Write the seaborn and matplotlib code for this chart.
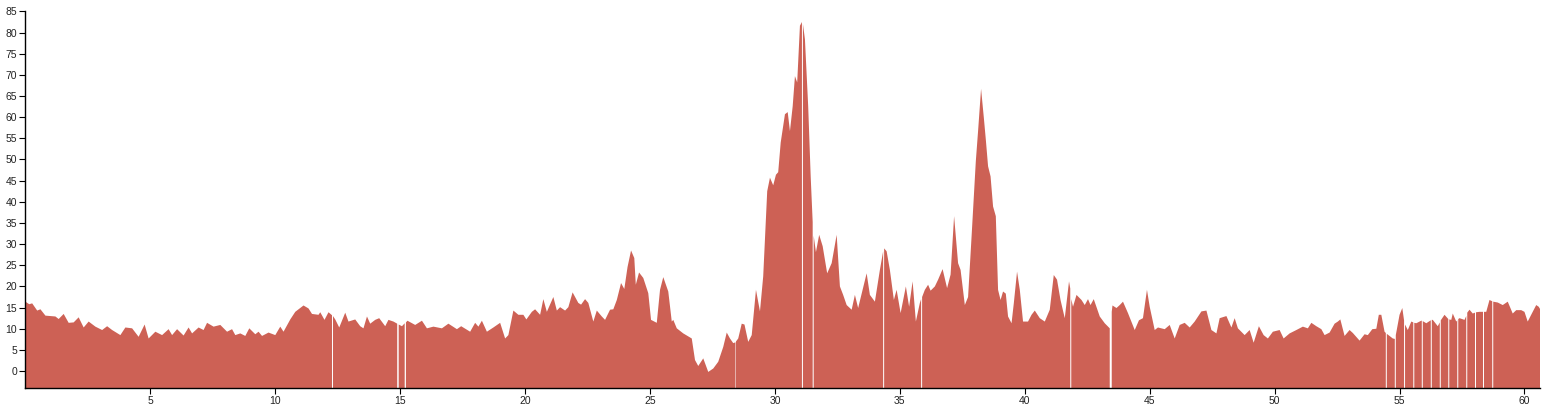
import numpy as np
import pandas as pd
import matplotlib
matplotlib.use("Agg")
import matplotlib.pyplot as plt
import seaborn as sns

nan = np.nan

# distance (x) and value (y); NaN marks missing samples (gaps)
dist = [
    0.0, 0.15, 0.27, 0.47, 0.6, 0.8, 1.2, 1.33, 1.53, 1.73, 1.93, 2.13, 2.33, 2.53, 2.8,
    3.07, 3.27, 3.47, 3.8, 4.0, 4.27, 4.53, 4.77, 4.93, 5.2, 5.47, 5.73, 5.87, 6.07, 6.33,
    6.53, 6.67, 6.93, 7.13, 7.27, 7.53, 7.8, 8.07, 8.27, 8.4, 8.6, 8.8, 8.96, 9.2, 9.33,
    9.47, 9.73, 10.0, 10.2, 10.33, 10.6, 10.8, 11.13, 11.33, 11.47, 11.73, 11.8, 11.97,
    12.13, 12.27, 12.29, 12.31, 12.4, 12.56, 12.8, 12.93, 13.2, 13.4, 13.53, 13.67, 13.8,
    14.0, 14.16, 14.4, 14.53, 14.73, 14.88, 14.91, 14.94, 15.07, 15.18, 15.2, 15.23, 15.29,
    15.6, 15.87, 16.07, 16.33, 16.67, 16.93, 17.27, 17.44, 17.8, 18.0, 18.13, 18.27, 18.47,
    18.73, 19.0, 19.2, 19.33, 19.53, 19.73, 19.93, 20.05, 20.27, 20.4, 20.6, 20.73, 20.87,
    21.13, 21.27, 21.4, 21.6, 21.73, 21.9, 22.13, 22.24, 22.4, 22.53, 22.73, 22.87, 23.07,
    23.2, 23.4, 23.53, 23.67, 23.84, 23.97, 24.1, 24.24, 24.37, 24.43, 24.56, 24.73, 24.93,
    25.04, 25.27, 25.4, 25.53, 25.73, 25.87, 25.93, 26.07, 26.33, 26.67, 26.8, 26.93, 27.13,
    27.33, 27.53, 27.73, 27.93, 28.07, 28.2, 28.33, 28.42, 28.43, 28.44, 28.53, 28.67, 28.78,
    28.93, 29.07, 29.24, 29.4, 29.53, 29.69, 29.8, 29.93, 30.04, 30.13, 30.23, 30.4, 30.51,
    30.6, 30.71, 30.8, 30.89, 31.0, 31.08, 31.1, 31.12, 31.2, 31.33, 31.43, 31.51, 31.53,
    31.55, 31.64, 31.77, 31.91, 32.09, 32.27, 32.47, 32.6, 32.73, 32.87, 33.07, 33.2, 33.33,
    33.67, 33.8, 34.0, 34.2, 34.33, 34.35, 34.37, 34.47, 34.6, 34.76, 34.87, 35.03, 35.24,
    35.37, 35.51, 35.64, 35.8, 35.85, 35.87, 35.89, 36.0, 36.13, 36.23, 36.4, 36.53, 36.71,
    36.89, 37.03, 37.17, 37.33, 37.43, 37.6, 37.73, 37.87, 38.04, 38.13, 38.25, 38.36, 38.44,
    38.53, 38.63, 38.73, 38.84, 38.93, 39.03, 39.13, 39.24, 39.33, 39.47, 39.56, 39.69, 39.8,
    39.93, 40.13, 40.27, 40.4, 40.6, 40.8, 41.0, 41.16, 41.29, 41.43, 41.6, 41.77, 41.82,
    41.84, 41.86, 41.93, 42.07, 42.27, 42.4, 42.53, 42.63, 42.76, 43.0, 43.2, 43.4, 43.44,
    43.48, 43.51, 43.67, 43.8, 43.93, 44.13, 44.4, 44.57, 44.73, 44.89, 45.0, 45.2, 45.33,
    45.6, 45.8, 46.0, 46.2, 46.4, 46.6, 46.8, 47.07, 47.27, 47.47, 47.67, 47.8, 48.07, 48.27,
    48.4, 48.53, 48.8, 49.0, 49.16, 49.37, 49.56, 49.73, 49.93, 50.2, 50.36, 50.6, 50.87,
    51.13, 51.33, 51.47, 51.67, 51.87, 52.0, 52.2, 52.4, 52.53, 52.63, 52.8, 53.0, 53.13,
    53.4, 53.6, 53.73, 53.91, 54.07, 54.17, 54.27, 54.4, 54.45, 54.47, 54.49, 54.6, 54.73,
    54.81, 54.83, 54.85, 55.0, 55.11, 55.18, 55.2, 55.22, 55.33, 55.47, 55.55, 55.57, 55.59,
    55.67, 55.87, 55.89, 55.91, 55.93, 56.07, 56.25, 56.27, 56.29, 56.33, 56.53, 56.61, 56.63,
    56.65, 56.8, 56.95, 56.97, 56.99, 57.07, 57.13, 57.27, 57.31, 57.33, 57.35, 57.4, 57.6,
    57.67, 57.69, 57.71, 57.8, 57.93, 58.02, 58.04, 58.06, 58.2, 58.34, 58.36, 58.38, 58.47,
    58.6, 58.71, 58.73, 58.75, 58.93, 59.13, 59.33, 59.53, 59.67, 59.87, 60.0, 60.13, 60.33,
    60.47, 60.57, 60.64,
]
value = [
    16.4, 15.8, 16.0, 14.3, 14.6, 13.1, 12.9, 12.3, 13.5, 11.4, 11.5, 12.7, 10.3, 11.7, 10.5,
    9.7, 10.6, 9.7, 8.5, 10.3, 10.1, 8.1, 11.0, 7.7, 9.3, 8.5, 9.9, 8.5, 9.9, 8.4,
    10.3, 8.9, 10.3, 9.7, 11.4, 10.5, 10.9, 9.3, 9.9, 8.5, 8.9, 8.3, 10.1, 8.7, 9.3,
    8.3, 9.1, 8.5, 10.5, 9.3, 12.2, 14.0, 15.5, 14.8, 13.5, 13.3, 13.9, 12.1,
    13.9, 13.2, nan, 13.0, 12.2, 10.3, 13.8, 11.7, 12.2, 10.6, 10.1, 12.9, 11.2,
    12.1, 12.5, 10.6, 12.1, 11.7, 11.2, nan, 11.0, 10.6, 11.3, nan, 11.5, 11.9,
    10.9, 11.9, 10.1, 10.5, 10.1, 11.2, 9.9, 10.6, 9.3, 11.4, 10.5, 11.9, 9.3,
    10.3, 11.4, 7.7, 8.5, 14.3, 13.3, 13.3, 12.2, 14.0, 14.6, 13.3, 17.0, 14.0,
    17.5, 14.3, 15.1, 14.3, 15.1, 18.6, 16.1, 15.7, 17.0, 16.1, 11.7, 14.3, 12.9,
    12.1, 14.5, 14.6, 16.8, 20.8, 19.4, 24.6, 28.5, 26.7, 20.4, 23.3, 22.0, 18.4,
    12.1, 11.4, 19.2, 22.2, 18.8, 11.7, 12.1, 10.1, 8.9, 7.7, 2.6, 1.2, 3.0,
    -0.2, 0.6, 2.2, 5.7, 9.1, 7.7, 6.6, 6.8, nan, 7.0, 7.7, 11.2, 11.0,
    6.9, 8.5, 19.2, 14.1, 22.4, 42.5, 45.7, 43.9, 46.4, 47.0, 54.0, 60.7, 61.2,
    56.7, 62.6, 69.7, 68.2, 81.6, 82.5, nan, 82.0, 78.4, 62.6, 46.0, 35.2, nan,
    32.0, 28.1, 32.2, 29.5, 23.1, 25.5, 32.2, 20.0, 18.0, 15.6, 14.5, 18.0, 14.9,
    23.1, 18.0, 16.4, 23.9, 28.3, nan, 29.0, 28.3, 23.9, 16.8, 19.2, 13.7, 20.0,
    15.2, 21.2, 11.7, 16.1, 17.0, nan, 17.5, 19.2, 20.4, 19.0, 20.0, 21.6, 24.1,
    19.6, 22.8, 36.6, 25.5, 23.9, 15.6, 17.5, 31.8, 49.6, 56.7, 66.7, 59.9, 54.7,
    48.4, 46.0, 38.9, 36.6, 19.2, 16.8, 18.8, 18.3, 12.9, 11.3, 16.0, 23.5, 19.2,
    11.7, 11.7, 13.3, 14.3, 12.5, 11.7, 14.5, 22.7, 21.6, 16.8, 12.5, 21.2, 19.5,
    nan, 17.0, 15.2, 18.0, 16.8, 15.6, 17.0, 15.6, 17.0, 12.9, 11.3, 10.1, nan,
    14.0, 15.5, 14.9, 15.6, 16.4, 13.7, 9.7, 12.0, 12.5, 19.2, 15.2, 9.7, 10.3,
    9.9, 10.9, 7.7, 10.9, 11.4, 10.3, 11.7, 14.1, 14.3, 9.7, 8.9, 12.5, 13.0, 10.3,
    12.5, 10.1, 8.5, 9.7, 6.7, 10.6, 8.5, 7.7, 9.3, 9.7, 7.7, 8.9, 9.7,
    10.5, 10.1, 11.4, 10.6, 9.9, 8.5, 9.1, 11.2, 11.7, 12.2, 8.3, 9.7, 9.0,
    7.2, 8.7, 8.5, 9.9, 10.0, 13.3, 13.3, 9.3, 9.0, nan, 8.8, 8.3, 7.7,
    7.6, nan, 8.5, 13.3, 14.9, 12.0, nan, 11.0, 9.7, 11.7, 11.5, nan, 11.4,
    11.3, 11.9, 11.9, nan, 11.8, 11.3, 12.0, nan, 12.1, 12.1, 10.6, 11.5, nan,
    12.0, 13.3, 12.3, nan, 12.2, 12.1, 13.6, 11.7, 12.0, nan, 12.3, 12.5, 12.1,
    13.0, nan, 13.8, 14.5, 13.6, 13.8, nan, 13.9, 14.0, 14.0, nan, 14.0, 14.0,
    16.8, 16.5, nan, 16.4, 16.2, 15.6, 16.4, 13.6, 14.4, 14.4, 14.0, 11.7, 14.0,
    15.6, 15.2, 14.5,
]

x_ticks = [5, 10, 15, 20, 25, 30, 35, 40, 45, 50, 55, 60]
y_ticks = list(range(0, 90, 5))

df = pd.DataFrame({"dist": dist, "value": value})

sns.set_style("ticks")
plt.rcParams["font.family"] = ["Liberation Sans", "DejaVu Sans"]

fig = plt.figure(figsize=(15.42, 4.07), dpi=100)
ax = fig.add_axes([0.0165, 0.0467, 0.9825, 0.9253])

color = "#cd6155"
ax.fill_between(df["dist"], df["value"], -4, color=color, linewidth=0, antialiased=True)

ax.set_xlim(0, 60.64)
ax.set_ylim(-4, 85)
ax.set_xticks(x_ticks)
ax.set_yticks(y_ticks)
ax.set_xticklabels([str(t) for t in x_ticks])
ax.set_yticklabels([str(t) for t in y_ticks])
ax.tick_params(axis="both", labelsize=7.5, length=4, width=0.8, color="#000000",
               labelcolor="#222222", pad=2)
ax.set_xlabel("")
ax.set_ylabel("")
sns.despine(ax=ax, top=True, right=True)
for s in ("left", "bottom"):
    ax.spines[s].set_color("#000000")
    ax.spines[s].set_linewidth(1.0)
ax.grid(False)

fig.savefig("out.png", dpi=100)
